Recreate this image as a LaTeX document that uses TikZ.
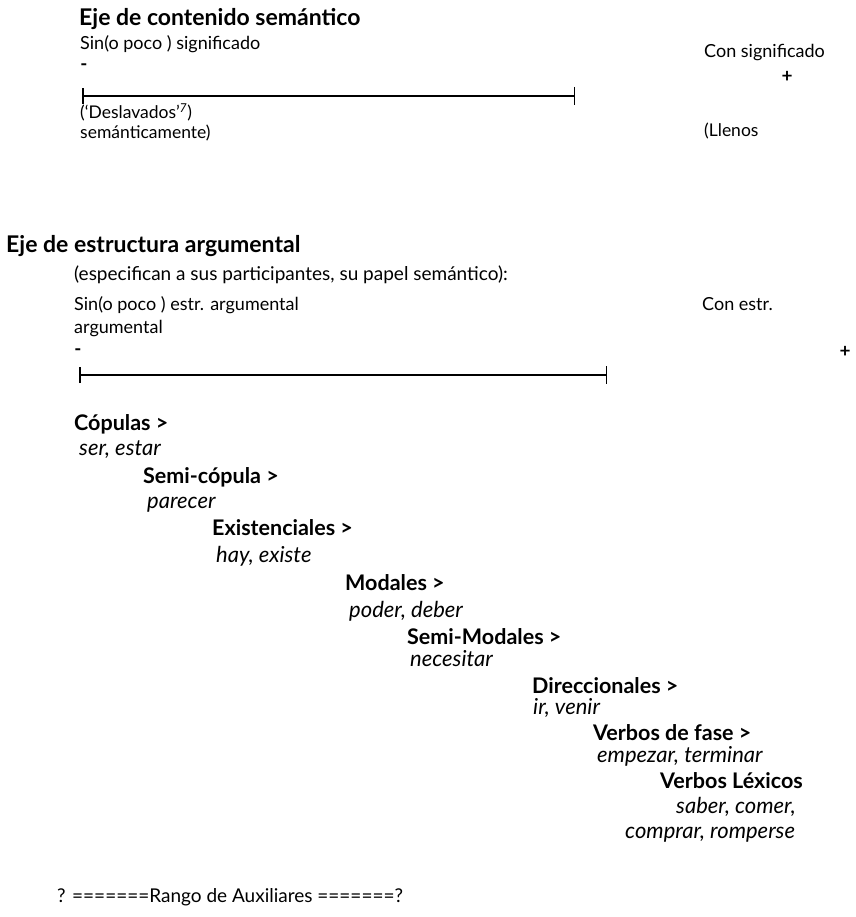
\documentclass[tikz,border=0pt]{standalone}
\usepackage{fontspec}
\setmainfont{Lato}
\usepackage{tikz}
\usetikzlibrary{arrows.meta}

\begin{document}
\begin{tikzpicture}[
x=1pt, y=-1pt,
    axistitle/.style={anchor=base west, inner sep=0pt, font=\fontsize{23}{26}\selectfont\bfseries},
    body/.style={anchor=base west, inner sep=0pt, font=\fontsize{18}{21}\selectfont},
    note/.style={anchor=base west, inner sep=0pt, font=\fontsize{17.5}{20}\selectfont},
    verbclass/.style={anchor=base west, inner sep=0pt, font=\fontsize{21.5}{24}\selectfont\bfseries},
    verbex/.style={anchor=base west, inner sep=0pt, font=\fontsize{22}{25}\selectfont\itshape},
    sign/.style={anchor=center, inner sep=0pt, font=\fontsize{19}{22}\selectfont\bfseries},
    axisline/.style={draw, line width=1.2pt, {Bar[width=16pt,line width=1.5pt]}-{Bar[width=18pt,line width=1.5pt]}}
]
    \useasboundingbox (0,0) rectangle (855,917);

    % --- Eje de contenido semantico ---
    \node[axistitle] (semTitle) at (79,26) {Eje de contenido semántico};
    \node[body] (semMinLabel) at (80,50) {Sin(o poco ) significado};
    \node[sign] (semMinus) at (84,67) {-};
    \coordinate (semMin) at (82,96);
    \coordinate (semMax) at (575,96);
    \draw[axisline] (semMin) -- (semMax);
    \node[note] (semDesl) at (80,119) {(‘Deslavados’\textsuperscript{\textit{7}})};
    \node[note] (semDeslB) at (80,139) {semánticamente)};
    \node[body] (semMaxLabel) at (704,58) {Con significado};
    \node[sign] (semPlus) at (787,77) {+};
    \node[note] (semLlenos) at (704,137) {(Llenos};

    % --- Eje de estructura argumental ---
    \node[axistitle] (argTitle) at (6,252) {Eje de estructura argumental};
    \node[note, font=\fontsize{19}{22}\selectfont] (argNote) at (74,280) {(especifican a sus participantes, su papel semántico):};
    \node[body] (argMinLabel) at (74,310) {Sin(o poco ) estr. argumental};
    \node[body] (argMinLabelB) at (74,333) {argumental};
    \node[sign] (argMinus) at (78,352) {-};
    \coordinate (argMin) at (79,375);
    \coordinate (argMax) at (607,375);
    \draw[axisline] (argMin) -- (argMax);
    \node[body] (argMaxLabel) at (702,310) {Con estr.};
    \node[sign] (argPlus) at (845,352) {+};

    % --- Escala de verbos ---
    \node[verbclass] (cop) at (74,430) {Cópulas >};
    \node[verbex] (copEx) at (79,455) {ser, estar};
    \node[verbclass] (semicop) at (143,483) {Semi-cópula >};
    \node[verbex] (semicopEx) at (147,508) {parecer};
    \node[verbclass] (exist) at (212,535) {Existenciales >};
    \node[verbex] (existEx) at (216,562) {hay, existe};
    \node[verbclass] (modal) at (345,590) {Modales >};
    \node[verbex] (modalEx) at (349,617) {poder, deber};
    \node[verbclass] (semimodal) at (407,644) {Semi-Modales >};
    \node[verbex] (semimodalEx) at (410,666) {necesitar};
    \node[verbclass] (direc) at (532,693) {Direccionales >};
    \node[verbex] (direcEx) at (533,714) {ir, venir};
    \node[verbclass] (fase) at (593,740) {Verbos de fase >};
    \node[verbex] (faseEx) at (597,762) {empezar, terminar};
    \node[verbclass] (lex) at (660,788) {Verbos Léxicos};
    \node[verbex] (lexEx) at (676,813) {saber, comer,};
    \node[verbex] (lexExB) at (625,838) {comprar, romperse};

    % --- Rango ---
    \node[body, font=\fontsize{19}{22}\selectfont] (rango) at (57,902) {? =======Rango de Auxiliares =======?};

\end{tikzpicture}
\end{document}
